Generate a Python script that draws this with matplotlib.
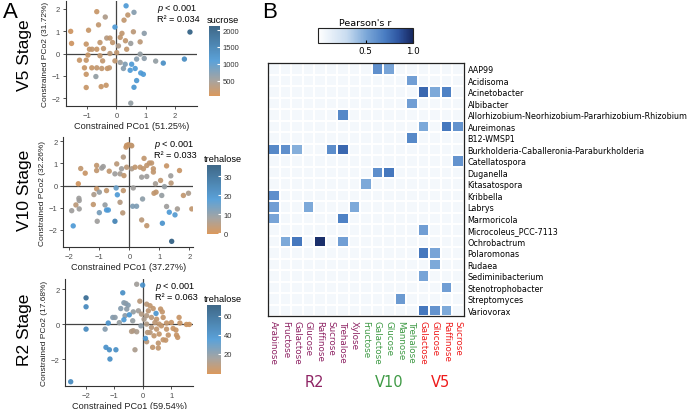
import matplotlib
matplotlib.use("Agg")
import matplotlib.pyplot as plt
import numpy as np
from matplotlib.colors import LinearSegmentedColormap
from matplotlib.transforms import blended_transform_factory

plt.rcParams["font.family"] = ["Liberation Sans", "DejaVu Sans"]
plt.rcParams["mathtext.fontset"] = "custom"
plt.rcParams["mathtext.it"] = "Liberation Sans:italic"
plt.rcParams["mathtext.rm"] = "Liberation Sans"

# ---------------- Panel A data ----------------
v5_pco1 = [0.33, 0.60, -0.67, -0.38, 0.39, 0.26, -0.05, -0.61, -1.56, -0.95,
           0.19, 0.58, 0.95, 2.51, -1.53, -1.03, -0.92, -0.83, -0.67, -0.56,
           -0.33, -0.22, -0.13, 0.13, 0.31, 0.49, 0.81, 0.07, 0.35, 0.01,
           -0.44, -0.22, -1.26, -1.03, -0.97, -0.56, -0.47, -0.05, 0.13, 0.30,
           0.52, 0.69, 0.81, 0.95, 1.34, 1.60, 2.32, -1.09, -0.84, -0.67,
           -0.50, -0.31, -0.24, 0.24, 0.47, 0.64, 0.83, 0.92, -1.03, -0.70,
           0.69, 0.60, -0.52, -0.35, -1.03, 0.49]
v5_pco2 = [2.13, 1.84, 1.87, 1.63, 1.72, 1.49, 1.18, 1.28, 0.99, 1.04,
           0.90, 0.97, 0.90, 0.96, 0.45, 0.42, 0.19, 0.19, 0.19, 0.49,
           0.69, 0.69, 0.49, 0.72, 0.57, 0.45, 0.52, 0.34, 0.19, 0.04,
           0.22, 0.00, -0.30, -0.30, -0.07, -0.10, -0.33, -0.33, -0.40, -0.48,
           -0.48, -0.25, -0.03, -0.22, -0.34, -0.43, -0.25, -0.64, -0.64, -0.64,
           -0.67, -0.67, -0.64, -0.67, -0.75, -0.67, -0.87, -0.93, -0.93, -1.03,
           -1.21, -1.51, -1.48, -1.42, -1.52, -2.22]
v5_sucrose = [1100, 700, 200, 400, 250, 250, 1100, 250, 150, 200,
              250, 300, 650, 2050, 150, 200, 200, 250, 200, 250,
              350, 250, 250, 250, 250, 550, 300, 400, 250, 250,
              250, 300, 200, 200, 200, 250, 250, 250, 550, 750,
              1100, 700, 600, 650, 600, 1300, 1350, 200, 200, 250,
              250, 200, 250, 700, 1100, 1100, 1100, 1100, 200, 600,
              1150, 1150, 200, 200, 200, 600]

v10_pco1 = [-0.09, -0.03, 0.06, -0.11, 0.08, -0.20, 0.49, 0.74, 1.24, 1.67,
            -1.62, -1.47, -1.09, -1.09, -0.87, -0.92, -0.67, -0.42, -0.48, -0.31,
            -0.26, -0.18, -0.09, 0.08, 0.19, 0.36, 0.47, 0.58, 0.67, 0.80,
            0.41, 0.58, 0.80, 1.04, 1.38, 0.87, 1.17, 1.39, -1.70, -1.09,
            -1.18, -1.00, -0.76, -0.44, -0.40, -0.20, 0.13, -1.68, -1.67, -1.78,
            -1.67, -1.92, -1.20, -0.81, -0.76, -0.70, -1.00, -0.31, -0.22, 0.11,
            0.24, 0.44, 0.82, 0.89, 1.08, 1.24, 1.80, 1.97, 2.08, 1.60,
            1.33, 1.52, 1.10, -1.07, -0.48, -1.87, 0.41, 0.58, 1.41]
v10_pco2 = [1.82, 1.85, 1.82, 1.74, 1.80, 1.29, 1.23, 1.02, 0.89, 0.68,
            0.77, 0.56, 0.91, 0.68, 0.86, 0.79, 0.65, 0.98, 0.53, 0.53,
            0.76, 0.45, 0.83, 0.76, 0.83, 0.83, 0.76, 0.91, 1.02, 0.76,
            0.38, 0.41, 0.61, 0.23, 0.44, 0.08, -0.05, 0.11, 0.08, -0.15,
            -0.41, -0.30, -0.23, -0.11, -0.42, -0.23, -0.11, -0.58, -0.68, -0.88,
            -1.06, -1.14, -0.86, -0.88, -1.11, -1.11, -1.23, -0.76, -1.24, -0.94,
            -0.94, -0.61, -0.35, -0.30, -0.45, -0.95, -0.45, -0.35, -1.06, -1.06,
            -1.21, -1.33, -1.71, -1.62, -1.62, -1.83, -1.56, -1.82, -2.53]
v10_trehalose = [2, 2, 3, 2, 3, 5, 3, 3, 2, 2,
                 3, 2, 3, 3, 8, 8, 3, 4, 8, 7,
                 8, 3, 4, 6, 3, 3, 3, 3, 3, 3,
                 8, 8, 3, 3, 8, 7, 9, 4, 1, 2,
                 6, 9, 3, 15, 18, 3, 8, 8, 8, 4,
                 8, 8, 3, 9, 18, 18, 13, 5, 4, 12,
                 12, 10, 3, 3, 9, 8, 3, 6, 3, 7,
                 18, 17, 20, 8, 25, 18, 4, 3, 35]

r2_pco1 = [-0.22, -0.01, -2.00, -2.00, -2.00, -0.71, -0.67, -0.60, -0.52, -0.78,
           -0.57, -0.11, -0.34, -0.16, -1.06, -0.98, -1.22, -1.33, -0.83, -0.63,
           -0.67, -0.48, -0.36, 0.13, 0.25, 0.19, 0.36, 0.62, 0.68, 0.46,
           0.13, 0.30, 0.48, 0.71, 0.83, 1.00, 1.30, 1.53, 1.63, 1.27,
           1.06, 1.18, 1.22, 0.89, 0.71, 0.54, 0.34, 0.13, 0.09, 0.39,
           0.57, 0.48, 0.30, 0.13, -0.07, -0.34, -0.22, -0.28, 0.25, 0.65,
           0.83, 0.42, 0.57, 0.04, -0.05, 0.16, 0.54, 0.80, 1.16, -1.30,
           -1.18, -0.95, -1.16, -2.54, -0.40]
r2_pco2 = [2.30, 2.25, 1.52, 1.01, -0.27, 1.81, 1.24, 1.20, 1.10, 0.91,
           0.88, 1.33, 0.72, 0.78, 0.40, 0.40, 0.08, -0.27, 0.10, 0.50,
           0.27, 0.55, 0.21, 1.16, 1.07, 0.78, 0.91, 0.88, 0.72, 0.63,
           0.50, 0.40, 0.30, 0.40, 0.08, 0.11, 0.08, 0.00, 0.00, 0.40,
           -0.23, -0.61, -0.74, -0.61, -0.88, -1.07, -1.31, -0.99, -0.80, -0.65,
           -0.55, -0.27, -0.17, 0.02, -0.08, -0.36, -0.42, -1.45, -0.46, -0.08,
           -0.27, 0.11, 0.02, 0.30, 0.59, -0.46, -1.35, -0.90, -0.32, -1.31,
           -1.45, -1.45, -1.98, -3.28, -0.40]
r2_trehalose = [15, 40, 62, 45, 45, 42, 22, 20, 22, 22,
                20, 8, 18, 15, 22, 20, 40, 22, 18, 20,
                35, 38, 18, 8, 6, 7, 6, 5, 5, 38,
                10, 8, 6, 5, 5, 4, 4, 3, 3, 4,
                4, 4, 4, 5, 5, 6, 6, 8, 38, 6,
                5, 6, 8, 10, 20, 10, 12, 12, 8, 5,
                5, 7, 6, 12, 10, 8, 6, 5, 4, 40,
                42, 42, 42, 45, 10]

# ---------------- Panel B data ----------------
taxa = ["AAP99", "Acidisoma", "Acinetobacter", "Albibacter",
        "Allorhizobium-Neorhizobium-Pararhizobium-Rhizobium", "Aureimonas",
        "B12-WMSP1", "Burkholderia-Caballeronia-Paraburkholderia",
        "Catellatospora", "Duganella", "Kitasatospora", "Kribbella", "Labrys",
        "Marmoricola", "Microcoleus_PCC-7113", "Ochrobactrum", "Polaromonas",
        "Rudaea", "Sediminibacterium", "Stenotrophobacter", "Streptomyces",
        "Variovorax"]
col_sugars = ["Arabinose", "Fructose", "Galactose", "Glucose", "Raffinose",
              "Sucrose", "Trehalose", "Xylose",
              "Fructose", "Galactose", "Glucose", "Mannose", "Trehalose",
              "Galactose", "Glucose", "Raffinose", "Sucrose"]
col_stages = ["R2"] * 8 + ["V10"] * 5 + ["V5"] * 4
stage_names = ["R2", "V10", "V5"]
stage_colors = {"R2": "#8e2464", "V10": "#3f9a45", "V5": "#ee1c1c"}
background_r = 0.06
sig_corr = [
    ("AAP99", "V10", "Galactose", 0.62), ("AAP99", "V10", "Glucose", 0.52),
    ("Acidisoma", "V10", "Trehalose", 0.55),
    ("Acinetobacter", "V5", "Galactose", 0.78), ("Acinetobacter", "V5", "Glucose", 0.50),
    ("Acinetobacter", "V5", "Raffinose", 0.68),
    ("Albibacter", "V10", "Trehalose", 0.55),
    ("Allorhizobium-Neorhizobium-Pararhizobium-Rhizobium", "R2", "Trehalose", 0.65),
    ("Aureimonas", "V5", "Galactose", 0.50), ("Aureimonas", "V5", "Raffinose", 0.72),
    ("Aureimonas", "V5", "Sucrose", 0.60),
    ("B12-WMSP1", "V10", "Trehalose", 0.65),
    ("Burkholderia-Caballeronia-Paraburkholderia", "R2", "Arabinose", 0.65),
    ("Burkholderia-Caballeronia-Paraburkholderia", "R2", "Fructose", 0.62),
    ("Burkholderia-Caballeronia-Paraburkholderia", "R2", "Galactose", 0.48),
    ("Burkholderia-Caballeronia-Paraburkholderia", "R2", "Sucrose", 0.63),
    ("Burkholderia-Caballeronia-Paraburkholderia", "R2", "Trehalose", 0.78),
    ("Catellatospora", "V5", "Sucrose", 0.60),
    ("Duganella", "V10", "Galactose", 0.62), ("Duganella", "V10", "Glucose", 0.72),
    ("Kitasatospora", "V10", "Fructose", 0.50),
    ("Kribbella", "R2", "Arabinose", 0.62),
    ("Labrys", "R2", "Arabinose", 0.55), ("Labrys", "R2", "Glucose", 0.50),
    ("Labrys", "R2", "Xylose", 0.50),
    ("Marmoricola", "R2", "Arabinose", 0.52), ("Marmoricola", "R2", "Trehalose", 0.68),
    ("Microcoleus_PCC-7113", "V5", "Galactose", 0.55),
    ("Ochrobactrum", "R2", "Fructose", 0.50), ("Ochrobactrum", "R2", "Galactose", 0.72),
    ("Ochrobactrum", "R2", "Raffinose", 0.97), ("Ochrobactrum", "R2", "Trehalose", 0.55),
    ("Polaromonas", "V5", "Galactose", 0.72), ("Polaromonas", "V5", "Glucose", 0.52),
    ("Rudaea", "V5", "Glucose", 0.50),
    ("Sediminibacterium", "V5", "Galactose", 0.52),
    ("Stenotrophobacter", "V5", "Raffinose", 0.55),
    ("Streptomyces", "V10", "Mannose", 0.57),
    ("Variovorax", "V5", "Galactose", 0.72), ("Variovorax", "V5", "Glucose", 0.60),
    ("Variovorax", "V5", "Raffinose", 0.50),
]

# ---------------- Figure ----------------
W, H = 696, 410
fig = plt.figure(figsize=(W / 100, H / 100), dpi=100)


def px_axes(l, t, r, b):
    return fig.add_axes([l / W, 1 - b / H, (r - l) / W, (b - t) / H])


sc_cmap = LinearSegmentedColormap.from_list(
    "sc", [(0, "#d8914f"), (0.22, "#a09c98"), (0.5, "#4d9ad6"), (1, "#2e5b7d")])


def scatter_panel(box, x, y, c, vmin, vmax, xlim, ylim, xticks, yticks,
                  xlabel, ylabel, r2txt, cbox, ctitle, cticks, stage, stage_y):
    ax = px_axes(*box)
    ax.axhline(0, color="#444444", lw=0.9, zorder=1)
    ax.axvline(0, color="#444444", lw=0.9, zorder=1)
    sc = ax.scatter(x, y, c=c, cmap=sc_cmap, vmin=vmin, vmax=vmax, s=15,
                    edgecolors="none", alpha=0.92, zorder=2)
    ax.set_xlim(*xlim)
    ax.set_ylim(*ylim)
    ax.set_xticks(xticks)
    ax.set_yticks(yticks)
    for s in ["top", "right"]:
        ax.spines[s].set_visible(False)
    for s in ["left", "bottom"]:
        ax.spines[s].set_color("#333333")
        ax.spines[s].set_linewidth(0.8)
    ax.tick_params(labelsize=5.5, color="#333333", labelcolor="#4d4d4d",
                   length=2.5, width=0.6, pad=1.5)
    ax.set_xlabel(xlabel, fontsize=6.6, labelpad=1.5, color="#222222")
    ax.set_ylabel(ylabel, fontsize=6.0, labelpad=2, color="#222222")
    ax.text(0.70, 0.99, "$p$ < 0.001\n" + r2txt, transform=ax.transAxes,
            fontsize=6.6, va="top", ha="left", linespacing=1.05)
    cax = px_axes(*cbox)
    cb = fig.colorbar(sc, cax=cax, ticks=cticks)
    cb.outline.set_visible(False)
    cax.tick_params(labelsize=5.5, length=2, color="white", direction="in",
                    pad=2, labelcolor="#333333")
    cax.set_title(ctitle, fontsize=6.6, loc="left", pad=3, x=-0.25)
    fig.text(25 / W, 1 - stage_y / H, stage, rotation=90, fontsize=12.5,
             ha="center", va="center")
    return ax


scatter_panel((65.7, 1.7, 196.7, 107.3), v5_pco1, v5_pco2, v5_sucrose, 50, 2120,
              (-1.73, 2.74), (-2.36, 2.36), [-1, 0, 1, 2], [-2, -1, 0, 1, 2],
              "Constrained PCo1 (51.25%)", "Constrained PCo2 (31.72%)",
              "R² = 0.034", (209, 27, 220, 97), "sucrose",
              [500, 1000, 1500, 2000], "V5 Stage", 55)
scatter_panel((63.3, 138, 193.3, 248.3), v10_pco1, v10_pco2, v10_trehalose, -0.5, 36,
              (-2.2, 2.13), (-2.8, 2.2), [-2, -1, 0, 1, 2], [-2, -1, 0, 1, 2],
              "Constrained PCo1 (37.27%)", "Constrained PCo2 (32.26%)",
              "R² = 0.033", (207, 166, 221, 235), "trehalose",
              [0, 10, 20, 30], "V10 Stage", 190)
scatter_panel((65, 280, 193.3, 387.3), r2_pco1, r2_pco2, r2_trehalose, -1, 71,
              (-2.74, 1.77), (-3.54, 2.6), [-2, -1, 0, 1], [-2, 0, 2],
              "Constrained PCo1 (59.54%)", "Constrained PCo2 (17.68%)",
              "R² = 0.063", (207, 306, 221, 375), "trehalose",
              [20, 40, 60], "R2 Stage", 330)

# ---------------- Panel B heatmap ----------------
mat = np.full((len(taxa), len(col_sugars)), background_r)
for taxon, stage, sugar, r in sig_corr:
    j = [k for k in range(len(col_sugars))
         if col_sugars[k] == sugar and col_stages[k] == stage][0]
    mat[taxa.index(taxon), j] = r

heat_cmap = LinearSegmentedColormap.from_list(
    "hc", [(0, "#ffffff"), (0.3, "#c9dcf0"), (0.5, "#7ea9d9"), (0.7, "#4a7ec3"),
           (0.85, "#2e55a0"), (1.0, "#16275f")])

axh = px_axes(268, 64, 463.5, 317)
mesh = axh.pcolormesh(np.arange(len(col_sugars) + 1), np.arange(len(taxa) + 1), mat,
                      cmap=heat_cmap, vmin=0, vmax=1, edgecolors="white",
                      linewidth=1.3)
axh.set_xlim(0, len(col_sugars))
axh.set_ylim(len(taxa), 0)
axh.set_xticks(np.arange(len(col_sugars)) + 0.5)
axh.set_xticklabels(col_sugars, rotation=-90, fontsize=6.3, family="DejaVu Sans",
                    va="top", ha="center")
for lab, st in zip(axh.get_xticklabels(), col_stages):
    lab.set_color(stage_colors[st])
axh.yaxis.tick_right()
axh.set_yticks(np.arange(len(taxa)) + 0.5)
axh.set_yticklabels(taxa, fontsize=5.8, family="DejaVu Sans")
axh.tick_params(length=0, pad=3)
for s in axh.spines.values():
    s.set_color("#222222")
    s.set_linewidth(0.9)

tr = blended_transform_factory(axh.transData, fig.transFigure)
for st in stage_names:
    idx = [k for k in range(len(col_stages)) if col_stages[k] == st]
    xc = (min(idx) + max(idx) + 1) / 2
    axh.text(xc, 1 - 383 / H, st, transform=tr, fontsize=10.5,
             color=stage_colors[st], ha="center", va="center",
             family="DejaVu Sans")

caxb = px_axes(318, 29, 413, 44)
cbb = fig.colorbar(mesh, cax=caxb, orientation="horizontal", ticks=[0.5, 1.0])
cbb.outline.set_color("#222222")
cbb.outline.set_linewidth(0.8)
caxb.tick_params(labelsize=6.3, length=2, direction="in", pad=2)
for t in caxb.get_xticklabels():
    t.set_family("DejaVu Sans")
caxb.set_title("Pearson's r", fontsize=6.8, pad=2, family="DejaVu Sans")

fig.text(3 / W, 1 - 2 / H, "A", fontsize=16, va="top", ha="left")
fig.text(262 / W, 1 - 2 / H, "B", fontsize=16, va="top", ha="left")

fig.savefig("out.png", dpi=100)
